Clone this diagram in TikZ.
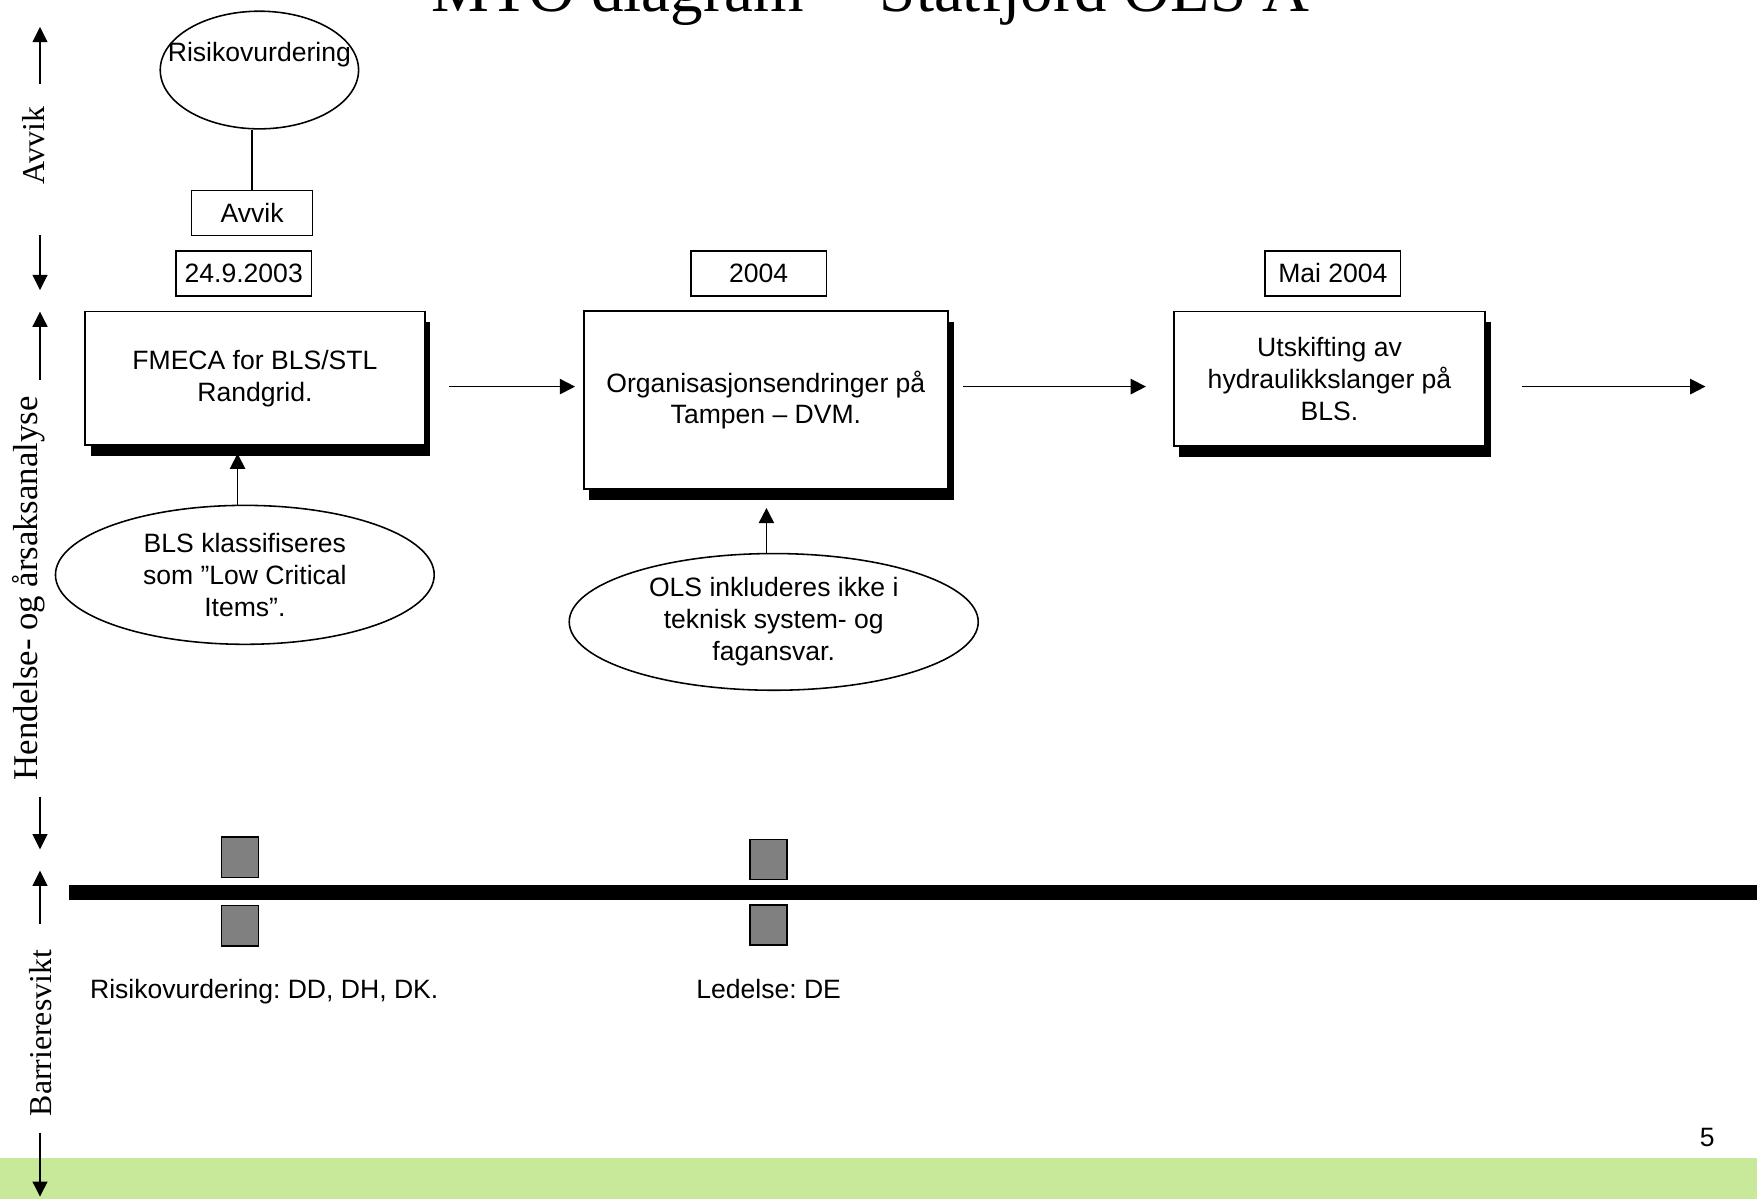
\documentclass[tikz,border=0pt]{standalone}
\usepackage{fontspec}
\setmainfont{Liberation Sans}
\newfontfamily\serifface{Liberation Serif}
\usetikzlibrary{arrows.meta,shapes.geometric,shadows}
\definecolor{bandgreen}{RGB}{200,233,154}
\definecolor{barriergray}{RGB}{128,128,128}
\frenchspacing
\tikzset{
  txt/.style={font=\fontsize{11.85}{14.25}\selectfont, align=center},
  plain/.style={txt, inner sep=0pt},
  evbox/.style={txt, draw, line width=0.8pt, fill=white, inner sep=0pt,
    drop shadow={shadow xshift=2.5pt, shadow yshift=-4.75pt, opacity=1, fill=black}},
  datebox/.style={txt, draw, line width=0.7pt, inner sep=0pt, minimum width=60.5pt, minimum height=20pt},
  causeell/.style={txt, draw, ellipse, line width=0.7pt, inner sep=0pt},
  conn/.style={line width=0.8pt, -{Triangle[length=6.8pt,width=6.8pt]}},
  axisarr/.style={line width=0.8pt, -{Triangle[length=6.8pt,width=6.6pt]}},
  axislab/.style={font=\serifface\fontsize{14.2}{17}\selectfont, rotate=90, anchor=base, inner sep=0pt},
  barrierbox/.style={draw, fill=barriergray, line width=0.7pt, minimum width=16.5pt, minimum height=18pt, inner sep=0pt},
}
\begin{document}
\begin{tikzpicture}[x=0.5pt,y=-0.5pt]
\useasboundingbox (0,0) rectangle (1568,1070);
% green band
\fill[bandgreen] (0,1033) rectangle (1568,1070);
% title
\node[plain, font=\serifface\fontsize{29}{34}\selectfont, anchor=base] (title) at (777,10.5) {MTO diagram -- Statfjord OLS A};

% left axis
\coordinate (a1s) at (35.7,75);   \coordinate (a1e) at (35.7,24);
\coordinate (a2s) at (35.7,210);  \coordinate (a2e) at (35.7,259);
\coordinate (a3s) at (35.7,339);  \coordinate (a3e) at (35.7,278);
\coordinate (a4s) at (35.7,711);  \coordinate (a4e) at (35.7,758);
\coordinate (a5s) at (35.7,825);  \coordinate (a5e) at (35.7,777);
\coordinate (a6s) at (35.7,1011); \coordinate (a6e) at (35.7,1068);
\draw[axisarr] (a1s) -- (a1e);
\draw[axisarr] (a2s) -- (a2e);
\draw[axisarr] (a3s) -- (a3e);
\draw[axisarr] (a4s) -- (a4e);
\draw[axisarr] (a5s) -- (a5e);
\draw[axisarr] (a6s) -- (a6e);
\node[axislab] (lab1) at (39.6,130) {Avvik};
\node[axislab, font=\serifface\fontsize{15.5}{18}\selectfont] (lab2) at (33.3,525) {Hendelse- og årsaksanalyse};
\node[axislab] (lab3) at (46,922) {Barrieresvikt};

% Avvik part
\node[draw, ellipse, line width=0.7pt, minimum width=88.5pt, minimum height=52.5pt, inner sep=0pt] (risk) at (231.5,62.5) {};
\node[plain] (risktext) at (231.5,48.5) {Risikovurdering};
\node[datebox, minimum width=54pt] (avvik) at (225,190) {Avvik};
\draw[line width=0.75pt] (avvik.north) -- (avvik.north |- risk.south);

% dates
\node[datebox] (d1) at (217.5,244) {24.9.2003};
\node[datebox] (d2) at (677,244) {2004};
\node[datebox] (d3) at (1189.5,244) {Mai 2004};

% events
\node[evbox, minimum width=151.5pt, minimum height=59.5pt] (e1) at (227.5,337.5) {FMECA for BLS/STL\\Randgrid.};
\node[evbox, minimum width=162.5pt, minimum height=79.5pt] (e2) at (683.5,357) {Organisasjonsendringer på\\Tampen – DVM.};
\node[evbox, minimum width=139pt, minimum height=60pt] (e3) at (1186.5,338) {Utskifting av\\hydraulikkslanger på\\BLS.};

\coordinate (ay) at (0,345);
\coordinate (next) at (1522,345);
\draw[conn, shorten <=10.5pt, shorten >=3.5pt] (e1.east |- ay) -- (e2.west |- ay);
\draw[conn, shorten <=6.5pt, shorten >=12pt] (e2.east |- ay) -- (e3.west |- ay);
\draw[conn, shorten <=16pt] (e3.east |- ay) -- (next);

% causes
\node[causeell, minimum width=169pt, minimum height=62pt] (c1) at (218.5,513) {BLS klassifiseres\\som ”Low Critical\\Items”.};
\node[causeell, minimum width=182.5pt, minimum height=61pt] (c2) at (690.5,555) {OLS inkluderes ikke i\\teknisk system- og\\fagansvar.};
\coordinate (x1) at (212,0);
\coordinate (x2) at (684,0);
\draw[conn, shorten >=3.5pt] (c1.north -| x1) -- (e1.south -| x1);
\draw[conn, shorten >=8pt] (c2.north -| x2) -- (e2.south -| x2);

% barrier line
\fill[black] (62,790) rectangle (1570,803);
\node[barrierbox] (b1u) at (214,765) {};
\node[barrierbox] (b1l) at (214,826) {};
\node[barrierbox] (b2u) at (686,767) {};
\node[barrierbox] (b2l) at (686,825.5) {};
\node[plain, anchor=base west] (l1) at (80,891) {Risikovurdering: DD, DH, DK.};
\node[plain, anchor=base west] (l2) at (621,891) {Ledelse: DE};

% page number
\node[plain, anchor=base] (pg) at (1523.5,1023) {5};
\end{tikzpicture}
\end{document}
